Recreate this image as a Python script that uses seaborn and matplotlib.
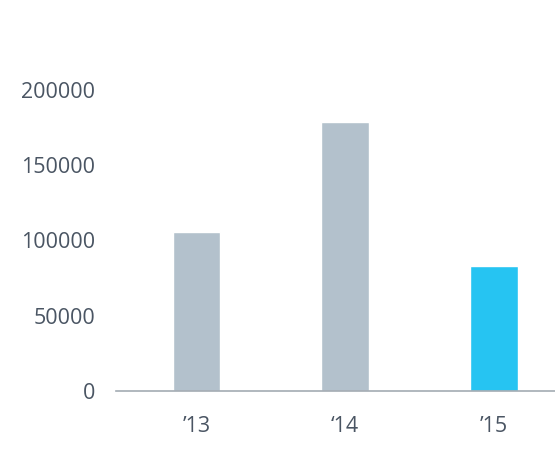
import pandas as pd
import seaborn as sns
import matplotlib.pyplot as plt

# Datos del gráfico
years = ["\u201913", "\u201814", "\u201915"]
values = [105500, 178500, 83000]
bar_colors = ["#b3c1cc", "#b3c1cc", "#26c4f2"]

df = pd.DataFrame({"year": years, "value": values})

sns.set_style("white")
plt.rcParams["font.family"] = ["Open Sans", "DejaVu Sans"]

fig = plt.figure(figsize=(5.55, 4.57), dpi=100)
ax = fig.add_axes([116 / 555, (457 - 391) / 457, (555 - 116) / 555, (391 - 90) / 457])

sns.barplot(data=df, x="year", y="value", hue="year", palette=bar_colors,
            width=0.32, legend=False, ax=ax, saturation=1)

ax.set_xlim(-0.54, 2.41)
ax.set_ylim(0, 200000)
ax.set_yticks([0, 50000, 100000, 150000, 200000])
ax.set_xlabel("")
ax.set_ylabel("")

text_color = "#4a5563"
ax.tick_params(axis="y", length=0, pad=15, labelsize=15.5, labelcolor=text_color)
ax.tick_params(axis="x", length=0, pad=18, labelsize=15.5, labelcolor=text_color)

sns.despine(ax=ax, left=True, top=True, right=True)
ax.spines["bottom"].set_color("#a3abb3")
ax.spines["bottom"].set_linewidth(1.2)

fig.savefig("out.png", dpi=100)
